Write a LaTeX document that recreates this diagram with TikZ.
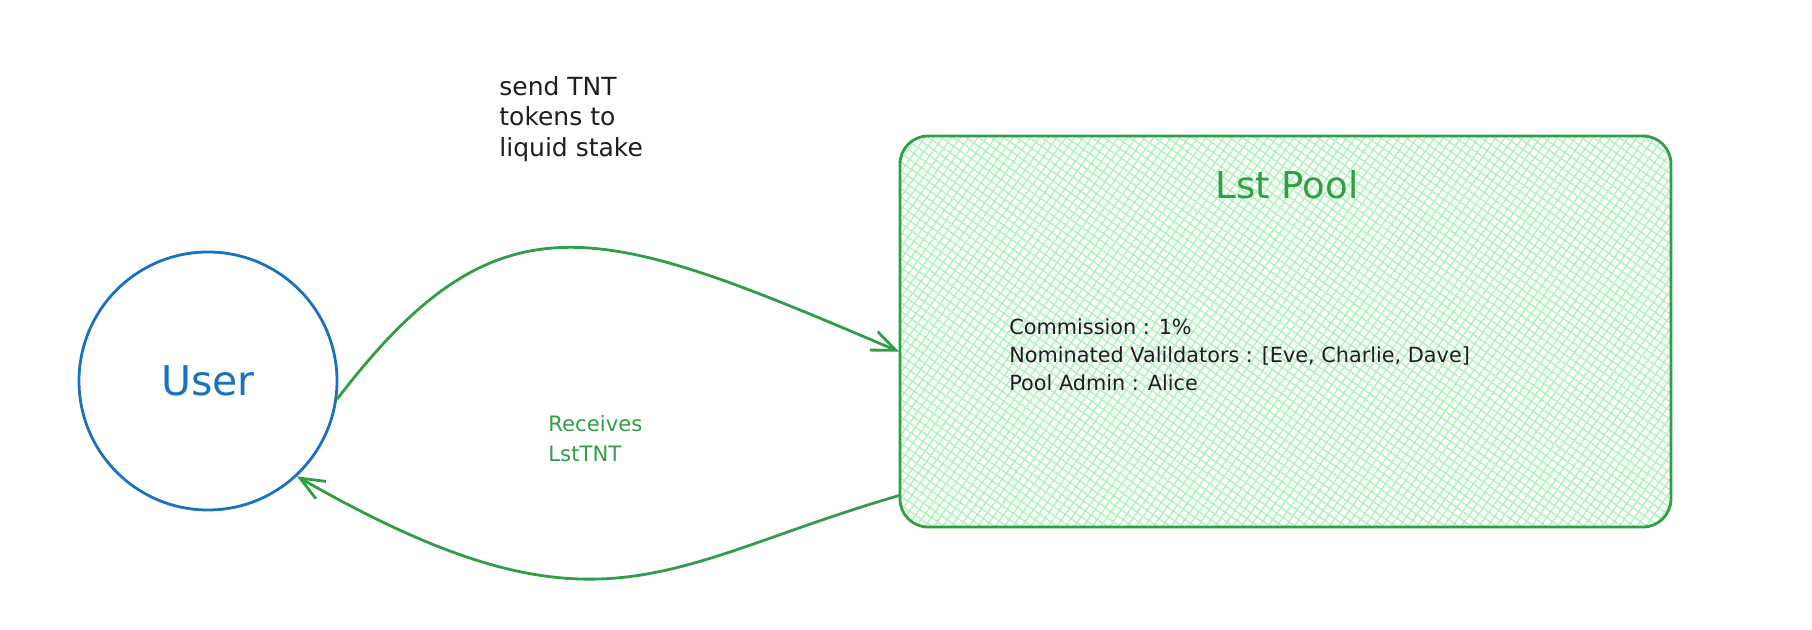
\documentclass[tikz,border=0pt]{standalone}
\usepackage{fontspec}
\setmainfont{DejaVu Sans}
\usetikzlibrary{arrows.meta,patterns.meta}
\definecolor{poolgreen}{HTML}{2F9E44}
\definecolor{hatchgreen}{HTML}{B2F2BB}
\definecolor{userblue}{HTML}{1971C2}
\definecolor{inkblack}{HTML}{1E1E1E}

\begin{document}
\begin{tikzpicture}[
      x=0.5pt,y=-0.5pt,
      usercircle/.style={
         circle,
         draw=userblue,
         line width=1.4pt,
         inner sep=0pt,
         minimum size=129pt,
         text=userblue,
         font=\fontsize{20.5}{24}\selectfont},
      poolbox/.style={
         rectangle,
         rounded corners=14pt,
         draw=poolgreen,
         line width=1.4pt,
         minimum width=385.5pt,
         minimum height=195.5pt,
         preaction={pattern={Lines[angle=55,distance=3.6pt,line width=0.75pt]},pattern color=hatchgreen},
         pattern={Lines[angle=145,distance=3.6pt,line width=0.75pt]},
         pattern color=hatchgreen},
      mytext/.style={
         rectangle,
         inner sep=0pt,
         align=left,
         anchor=west,
         text=inkblack},
      myarrow/.style={
         draw=poolgreen,
         line width=1.4pt,
         -{Straight Barb[length=12pt,width=10pt]}}
      ]
      \useasboundingbox (0,0) rectangle (1812,630);
      \node[usercircle] (user) at (208,381) {User};
      \node[poolbox] (pool) at (1285.5,331.5) {};
      \node[font=\fontsize{18.5}{22}\selectfont,text=poolgreen] (title) at (1287,185) {Lst Pool};
      \node[mytext,font=\fontsize{10.4}{14}\selectfont] (info) at (1009,355)
         {Commission : 1\%\\Nominated Valildators : [Eve, Charlie, Dave]\\Pool Admin : Alice};
      \node[mytext,font=\fontsize{12.5}{15.3}\selectfont] (send) at (499,119)
         {send TNT\\tokens to\\liquid stake};
      \node[mytext,font=\fontsize{10.6}{15}\selectfont,text=poolgreen] (recv) at (548,439)
         {Receives\\LstTNT};
      \draw[myarrow] (user.-8) .. controls (500,186) and (600,224) .. (pool.183.5);
      \draw[myarrow] (pool.203) .. controls (660,565) and (600,650) .. (user.-47);
\end{tikzpicture}
\end{document}
